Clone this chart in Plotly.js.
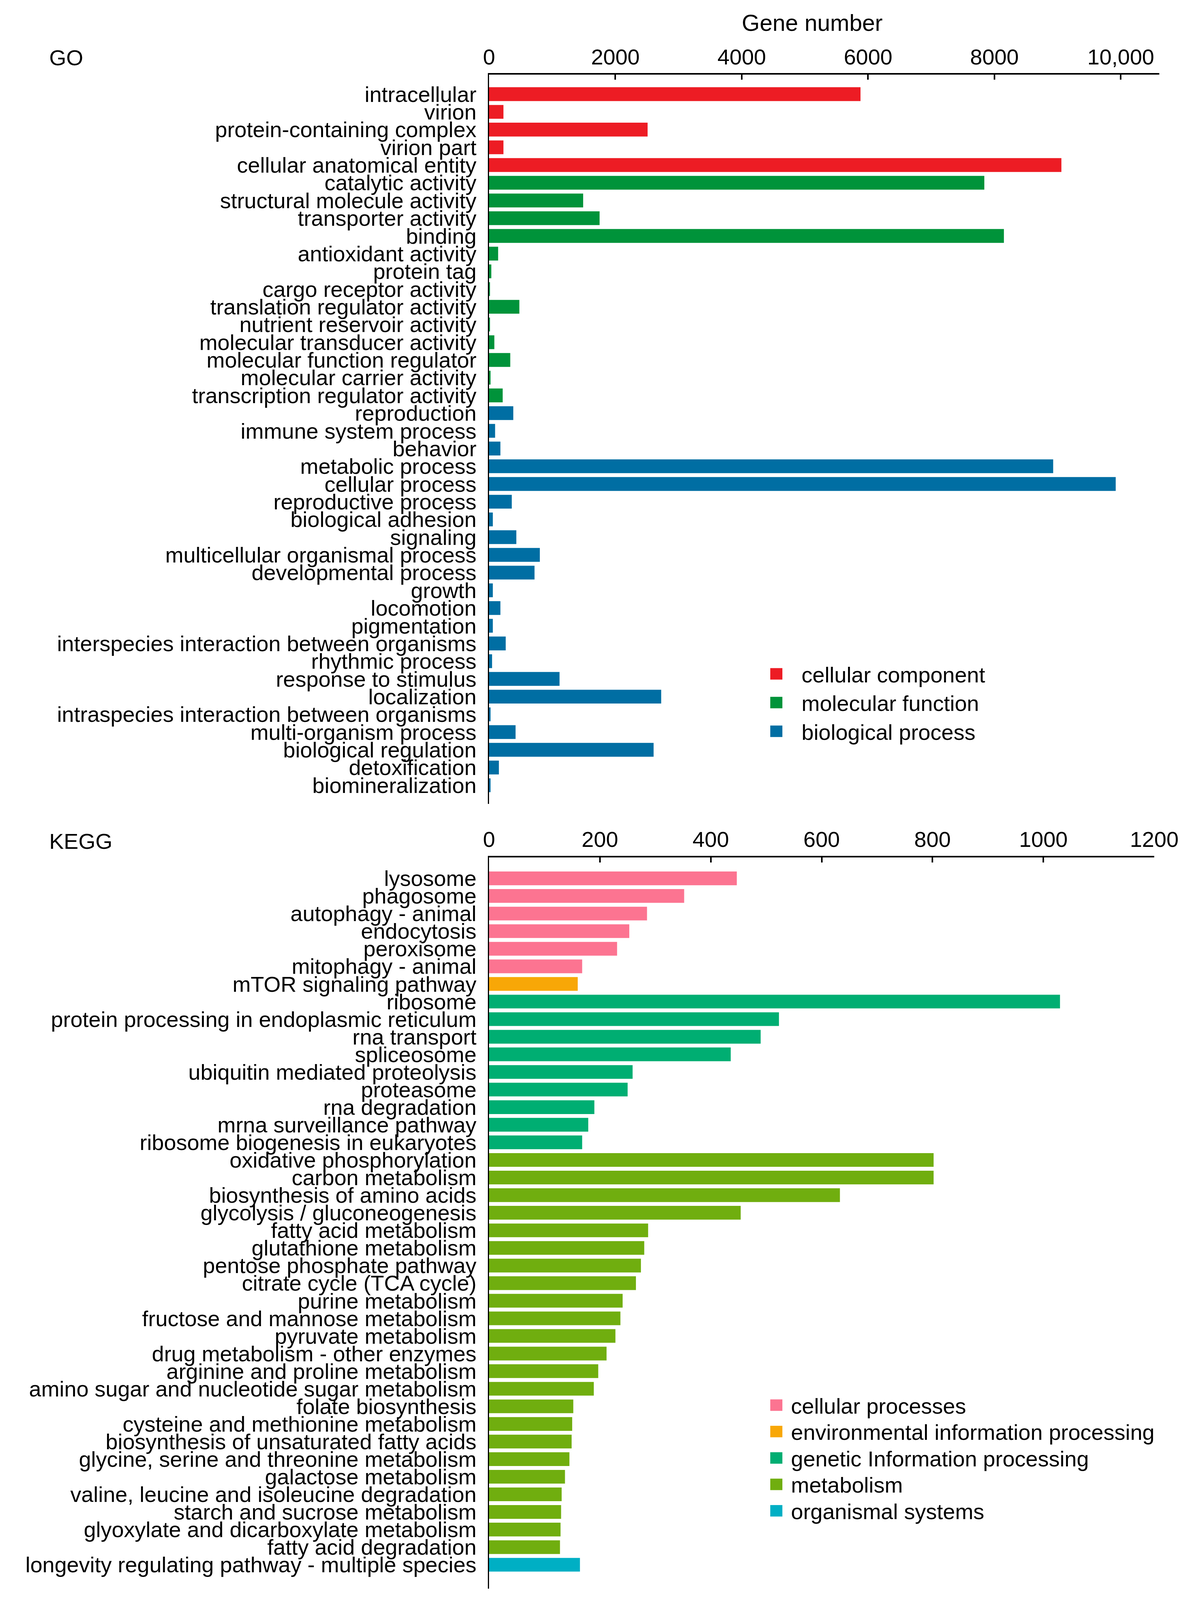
<!DOCTYPE html>
<html>
<head>
<meta charset="utf-8">
<script src="https://cdn.plot.ly/plotly-3.0.1.min.js"></script>
<style>html,body{margin:0;padding:0;background:#fff;overflow:hidden}#chart{width:100vw;height:100vh}</style>
</head>
<body>
<div id="chart"></div>
<script>
// ---------------- GO data ----------------
const goLabels = [
  "intracellular","virion","protein-containing complex","virion part","cellular anatomical entity",
  "catalytic activity","structural molecule activity","transporter activity","binding","antioxidant activity",
  "protein tag","cargo receptor activity","translation regulator activity","nutrient reservoir activity",
  "molecular transducer activity","molecular function regulator","molecular carrier activity",
  "transcription regulator activity",
  "reproduction","immune system process","behavior","metabolic process","cellular process",
  "reproductive process","biological adhesion","signaling","multicellular organismal process",
  "developmental process","growth","locomotion","pigmentation","interspecies interaction between organisms",
  "rhythmic process","response to stimulus","localization","intraspecies interaction between organisms",
  "multi-organism process","biological regulation","detoxification","biomineralization"
];
const goValues = [
  5880, 228, 2510, 228, 9060,
  7840, 1490, 1750, 8150, 144,
  36, 15, 480, 15,
  84, 336, 24,
  216,
  384, 96, 180, 8930, 9920,
  360, 60, 432, 804,
  720, 60, 180, 60, 264,
  48, 1116, 2725, 24,
  420, 2605, 156, 24
];
const goGroup = [
  0,0,0,0,0,
  1,1,1,1,1,1,1,1,1,1,1,1,1,
  2,2,2,2,2,2,2,2,2,2,2,2,2,2,2,2,2,2,2,2,2,2
];
const goGroupNames = ["cellular component","molecular function","biological process"];
const goGroupColors = ["#ED1C24","#00933A","#006EA3"];
const goTickVals = [0, 2000, 4000, 6000, 8000, 10000];
const goTickText = ["0","2000","4000","6000","8000","10,000"];

// ---------------- KEGG data ----------------
const keggLabels = [
  "lysosome","phagosome","autophagy - animal","endocytosis","peroxisome","mitophagy - animal",
  "mTOR signaling pathway",
  "ribosome","protein processing in endoplasmic reticulum","rna transport","spliceosome",
  "ubiquitin mediated proteolysis","proteasome","rna degradation","mrna surveillance pathway",
  "ribosome biogenesis in eukaryotes",
  "oxidative phosphorylation","carbon metabolism","biosynthesis of amino acids","glycolysis / gluconeogenesis",
  "fatty acid metabolism","glutathione metabolism","pentose phosphate pathway","citrate cycle (TCA cycle)",
  "purine metabolism","fructose and mannose metabolism","pyruvate metabolism","drug metabolism - other enzymes",
  "arginine and proline metabolism","amino sugar and nucleotide sugar metabolism","folate biosynthesis",
  "cysteine and methionine metabolism","biosynthesis of unsaturated fatty acids",
  "glycine, serine and threonine metabolism","galactose metabolism","valine, leucine and isoleucine degradation",
  "starch and sucrose metabolism","glyoxylate and dicarboxylate metabolism","fatty acid degradation",
  "longevity regulating pathway - multiple species"
];
const keggValues = [
  447, 352, 285, 253, 231, 168,
  160,
  1030, 523, 490, 436, 259, 250, 190, 179, 168,
  802, 802, 633, 454, 287, 280, 274, 265, 241, 237, 228, 212, 197, 189, 152, 150, 149, 145, 137, 131, 130, 129, 128,
  164
];
const keggGroup = [
  0,0,0,0,0,0,
  1,
  2,2,2,2,2,2,2,2,2,
  3,3,3,3,3,3,3,3,3,3,3,3,3,3,3,3,3,3,3,3,3,3,3,
  4
];
const keggGroupNames = ["cellular processes","environmental information processing","genetic Information processing","metabolism","organismal systems"];
const keggGroupColors = ["#FC7491","#F8A707","#00AE72","#70AE0F","#00AFC4"];
const keggTickVals = [0, 200, 400, 600, 800, 1000, 1200];
const keggTickText = ["0","200","400","600","800","1000","1200"];

// ---------------- layout helpers ----------------
// Positions below are in reference pixels (3044 x 4179) and converted to paper fractions,
// so the figure fits whatever viewport the page is shown in.
const RW = 3044, RH = 4179;
const VW = window.innerWidth || RW;
const VH = window.innerHeight || RH;
const sy = Math.min(1, VH / RH);
const px = v => v / RW;
const py = v => 1 - v / RH;
const FONT = "Liberation Sans, Arial, sans-serif";
const FS = Math.round(57 * sy);

const traces = [
  {
    type: "bar", orientation: "h",
    x: goValues, y: goLabels,
    marker: { color: goGroup.map(g => goGroupColors[g]) },
    width: 0.78, xaxis: "x", yaxis: "y", showlegend: false, hoverinfo: "x+y"
  },
  {
    type: "bar", orientation: "h",
    x: keggValues, y: keggLabels,
    marker: { color: keggGroup.map(g => keggGroupColors[g]) },
    width: 0.78, xaxis: "x2", yaxis: "y2", showlegend: false, hoverinfo: "x+y"
  }
];

const axisCommon = {
  showgrid: false, zeroline: false, showline: true, linecolor: "#000",
  tickfont: { family: FONT, size: FS, color: "#000" }, fixedrange: true
};

const shapes = [];
const annotations = [
  { text: "Gene number", xref: "paper", yref: "paper", x: px(2079), y: py(60),
    xanchor: "center", yanchor: "middle", showarrow: false,
    font: { family: FONT, size: Math.round(60 * sy), color: "#000" } },
  { text: "GO", xref: "paper", yref: "paper", x: px(124), y: py(150),
    xanchor: "left", yanchor: "middle", showarrow: false,
    font: { family: FONT, size: FS, color: "#000" } },
  { text: "KEGG", xref: "paper", yref: "paper", x: px(124), y: py(2197),
    xanchor: "left", yanchor: "middle", showarrow: false,
    font: { family: FONT, size: FS, color: "#000" } }
];

function addLegend(names, colors, yStart, step, textX) {
  names.forEach((n, i) => {
    const cy = yStart + i * step;
    shapes.push({ type: "rect", xref: "paper", yref: "paper",
      x0: px(1972), x1: px(2003), y0: py(cy + 15), y1: py(cy - 15),
      fillcolor: colors[i], line: { width: 0 } });
    annotations.push({ text: n, xref: "paper", yref: "paper", x: px(textX), y: py(cy + 2),
      xanchor: "left", yanchor: "middle", showarrow: false,
      font: { family: FONT, size: FS, color: "#000" } });
  });
}
addLegend(goGroupNames, goGroupColors, 1760, 75, 2050);
addLegend(keggGroupNames, keggGroupColors, 3670, 69, 2023);

const layout = {
  width: VW, height: VH,
  margin: { l: 0, r: 0, t: 0, b: 0, pad: 0 },
  paper_bgcolor: "#fff", plot_bgcolor: "#fff",
  font: { family: FONT, size: FS, color: "#000" },
  xaxis: Object.assign({}, axisCommon, {
    domain: [px(1252), px(2968)], range: [0, 10610], side: "top", anchor: "y",
    linewidth: 4, ticks: "inside", ticklen: 13, tickwidth: 4, tickcolor: "#000",
    tickmode: "array", tickvals: goTickVals, ticktext: goTickText, ticklabelstandoff: 0
  }),
  yaxis: Object.assign({}, axisCommon, {
    domain: [py(2100), py(195)], type: "category", categoryorder: "array", categoryarray: goLabels,
    tickmode: "array", tickvals: goLabels, ticktext: goLabels,
    range: [40.06, -1.10], anchor: "x", linewidth: 3, ticks: "", ticklabelstandoff: 18
  }),
  xaxis2: Object.assign({}, axisCommon, {
    domain: [px(1252), px(2955)], range: [0, 1200], side: "top", anchor: "y2",
    linewidth: 4, ticks: "inside", ticklen: 13, tickwidth: 4, tickcolor: "#000",
    tickmode: "array", tickvals: keggTickVals, ticktext: keggTickText, ticklabelstandoff: 0
  }),
  yaxis2: Object.assign({}, axisCommon, {
    domain: [py(4149), py(2239)], type: "category", categoryorder: "array", categoryarray: keggLabels,
    tickmode: "array", tickvals: keggLabels, ticktext: keggLabels,
    range: [40.35, -1.2], anchor: "x2", linewidth: 3, ticks: "", ticklabelstandoff: 18
  }),
  shapes: shapes,
  annotations: annotations,
  showlegend: false
};

Plotly.newPlot("chart", traces, layout, { displayModeBar: false, staticPlot: true });
</script>
</body>
</html>
